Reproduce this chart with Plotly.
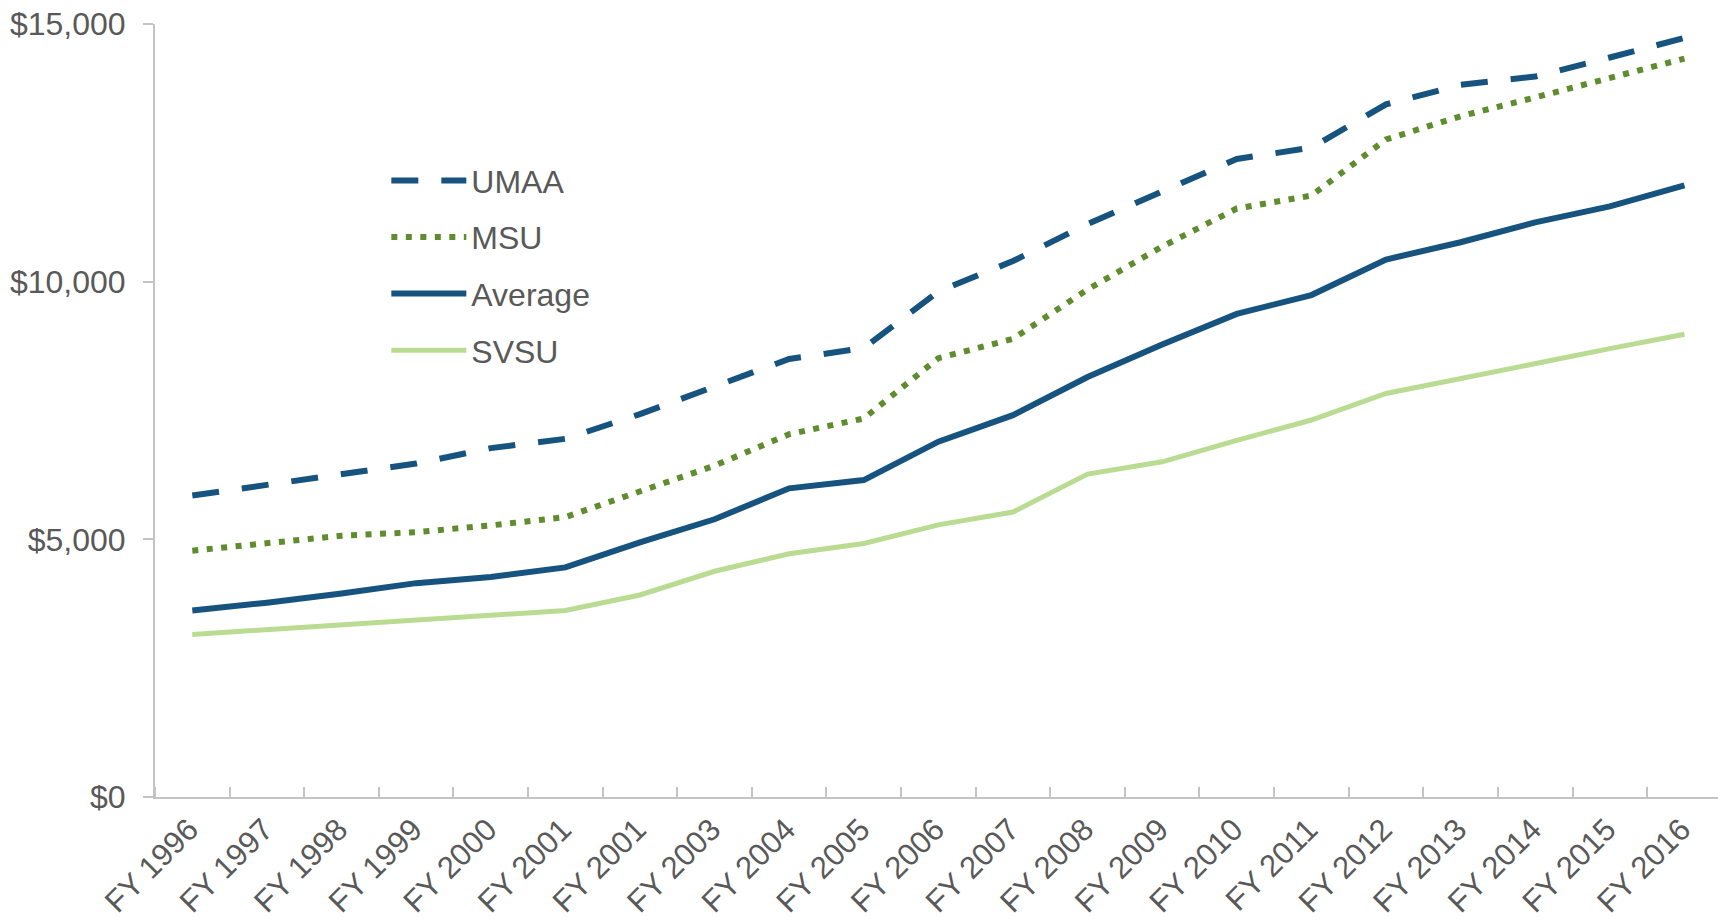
import plotly.graph_objects as go

years = ["FY 1996", "FY 1997", "FY 1998", "FY 1999", "FY 2000", "FY 2001", "FY 2001",
         "FY 2003", "FY 2004", "FY 2005", "FY 2006", "FY 2007", "FY 2008", "FY 2009",
         "FY 2010", "FY 2011", "FY 2012", "FY 2013", "FY 2014", "FY 2015", "FY 2016"]

umaa = [5850, 6060, 6280, 6470, 6770, 6950, 7430, 7960, 8500, 8710, 9810,
        10400, 11120, 11750, 12380, 12600, 13440, 13820, 13980, 14350, 14730]
msu = [4780, 4930, 5070, 5140, 5270, 5430, 5930, 6430, 7040, 7345, 8515,
       8890, 9850, 10680, 11420, 11670, 12760, 13210, 13575, 13940, 14330]
average = [3620, 3770, 3950, 4150, 4270, 4455, 4940, 5390, 5990, 6150, 6895,
           7410, 8150, 8780, 9375, 9740, 10430, 10765, 11150, 11460, 11870]
svsu = [3155, 3245, 3340, 3435, 3530, 3620, 3920, 4380, 4720, 4920, 5280,
        5530, 6265, 6505, 6920, 7315, 7830, 8120, 8430, 8700, 8980]

yticks = [0, 5000, 10000, 15000]
yticklabels = ["$0", "$5,000", "$10,000", "$15,000"]

blue = "#17537F"
green = "#5F8C2D"
light = "#BADC92"
grey_txt = "#595959"
axis_col = "#C4C4C4"
font = "Liberation Sans, Arial, sans-serif"

x = list(range(len(years)))

fig = go.Figure()
fig.add_trace(go.Scatter(x=x, y=umaa, mode="lines", name="UMAA", legendgroup="a",
                         line=dict(color=blue, width=6, dash="27px,23px")))
fig.add_trace(go.Scatter(x=x, y=msu, mode="lines", name="MSU", legendgroup="b",
                         line=dict(color=green, width=6, dash="6px,8.5px")))
fig.add_trace(go.Scatter(x=x, y=average, mode="lines", name="Average", legendgroup="c",
                         line=dict(color=blue, width=6)))
fig.add_trace(go.Scatter(x=x, y=svsu, mode="lines", name="SVSU", legendgroup="d",
                         line=dict(color=light, width=5)))

fig.update_layout(
    width=1718, height=923,
    margin=dict(l=155, r=0, t=24, b=126, autoexpand=False),
    plot_bgcolor="white", paper_bgcolor="white",
    font=dict(family=font, size=32, color=grey_txt),
    showlegend=True,
    legend=dict(x=0.148, y=0.833, xanchor="left", yanchor="top",
                itemwidth=75, tracegroupgap=12, bgcolor="rgba(0,0,0,0)",
                font=dict(family=font, size=32, color=grey_txt)),
)

fig.update_xaxes(
    range=[-0.5, 20.45], automargin=False,
    tickmode="array", tickvals=x, ticktext=years, tickangle=-45,
    ticks="", showline=True, linecolor=axis_col, linewidth=2,
    showgrid=False, zeroline=False, ticklabelstandoff=0, ticklabelshift=-3,
    minor=dict(tickmode="array", tickvals=[k - 0.5 for k in range(len(years) + 1)],
               ticks="inside", ticklen=10, tickcolor=axis_col, tickwidth=2),
    tickfont=dict(family=font, size=31, color=grey_txt),
)
fig.update_yaxes(
    range=[0, 15000], automargin=False,
    tickmode="array", tickvals=yticks, ticktext=yticklabels,
    ticks="outside", ticklen=10, tickcolor=axis_col, tickwidth=2,
    showline=True, linecolor=axis_col, linewidth=2,
    showgrid=False, zeroline=False, ticklabelstandoff=11,
    tickfont=dict(family=font, size=32, color=grey_txt),
)

# the page body has a default 8px margin; drop it so the figure fills the window
fig.write_html("out.html", config={"displayModeBar": False},
               post_script="document.body.style.margin = '0';")
